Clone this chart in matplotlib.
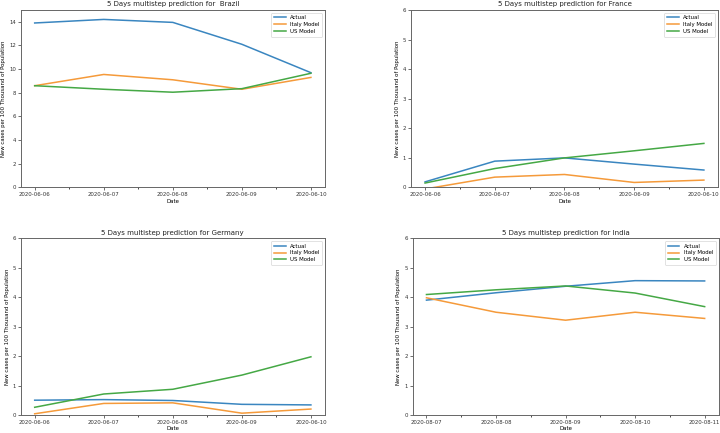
import pandas as pd
import matplotlib
matplotlib.use("Agg")
import matplotlib.pyplot as plt
import matplotlib.dates as mdates

# dates for each country
dates_jun = ["2020-06-06", "2020-06-07", "2020-06-08", "2020-06-09", "2020-06-10"]
dates_aug = ["2020-08-07", "2020-08-08", "2020-08-09", "2020-08-10", "2020-08-11"]

# Brazil
brazil_actual = [13.9, 14.2, 13.95, 12.1, 9.7]
brazil_italy = [8.6, 9.55, 9.1, 8.3, 9.3]
brazil_us = [8.6, 8.3, 8.05, 8.35, 9.65]

# France
france_actual = [0.19, 0.89, 1.0, 0.79, 0.59]
france_italy = [-0.05, 0.35, 0.44, 0.17, 0.25]
france_us = [0.15, 0.64, 1.0, 1.24, 1.49]

# Germany
germany_actual = [0.51, 0.53, 0.5, 0.37, 0.35]
germany_italy = [0.05, 0.4, 0.42, 0.07, 0.21]
germany_us = [0.27, 0.72, 0.88, 1.36, 1.98]

# India
india_actual = [3.9, 4.15, 4.37, 4.56, 4.55]
india_italy = [3.98, 3.49, 3.22, 3.49, 3.28]
india_us = [4.09, 4.25, 4.38, 4.14, 3.68]

panels = [
    ("5 Days multistep prediction for  Brazil", dates_jun, brazil_actual, brazil_italy, brazil_us, 15,
     [0.029, 0.567, 0.422, 0.410]),
    ("5 Days multistep prediction for France", dates_jun, france_actual, france_italy, france_us, 6,
     [0.571, 0.567, 0.426, 0.410]),
    ("5 Days multistep prediction for Germany", dates_jun, germany_actual, germany_italy, germany_us, 6,
     [0.029, 0.041, 0.422, 0.409]),
    ("5 Days multistep prediction for India", dates_aug, india_actual, india_italy, india_us, 6,
     [0.573, 0.041, 0.425, 0.409]),
]

fig = plt.figure(figsize=(7.2, 4.33), dpi=100)

for title, dates, actual, italy, us, ymax, pos in panels:
    ax = fig.add_axes(pos)
    x = pd.to_datetime(dates)
    ax.plot(x, actual, color="#3a86c0", lw=1.1, label="Actual")
    ax.plot(x, italy, color="#f59a3a", lw=1.1, label="Italy Model")
    ax.plot(x, us, color="#45a845", lw=1.1, label="US Model")
    ax.set_ylim(0, ymax)
    ax.xaxis.set_major_locator(mdates.DayLocator())
    ax.xaxis.set_minor_locator(mdates.HourLocator(byhour=[12]))
    ax.xaxis.set_major_formatter(mdates.DateFormatter("%Y-%m-%d"))
    ax.tick_params(labelsize=3.9, length=2.5, width=0.5, pad=1, colors="#333333")
    ax.tick_params(which="minor", length=1.5, width=0.5)
    ax.set_title(title, fontsize=5, pad=2.5, color="#222222")
    ax.set_xlabel("Date", fontsize=3.9, labelpad=1)
    ax.set_ylabel("New cases per 100 Thousand of Population", fontsize=3.9, labelpad=2)
    for s in ax.spines.values():
        s.set_linewidth(0.7)
        s.set_color("#666666")
    ax.legend(loc="upper right", fontsize=3.9, handlelength=2.2, framealpha=1,
              borderpad=0.5, labelspacing=0.35).get_frame().set_linewidth(0.4)

fig.savefig("out.png", dpi=100)
